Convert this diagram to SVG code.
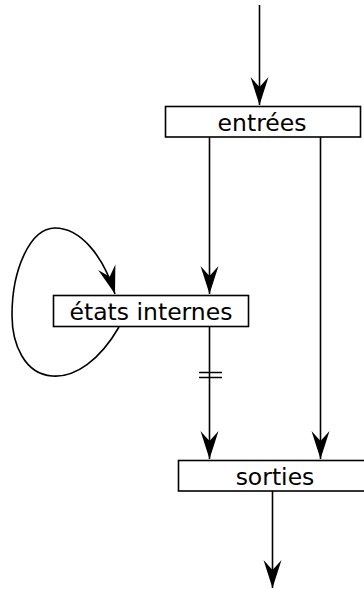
<svg xmlns="http://www.w3.org/2000/svg" width="364" height="590" viewBox="0 0 364 590">
<style>
.box{fill:#fff;stroke:#000;stroke-width:1.6}
.lbl{font-family:"DejaVu Sans",sans-serif;font-size:23.5px;fill:#000;text-anchor:middle}
.edge{fill:none;stroke:#000;stroke-width:1.6}
</style>
<defs>
<marker id="ah" markerUnits="userSpaceOnUse" viewBox="-29 -10 31 20" refX="0" refY="0" markerWidth="31" markerHeight="20" orient="auto">
<path d="M0,0 L-28,-9 L-18,0 L-28,9 Z" fill="#000"/>
</marker>
</defs>
<rect width="364" height="590" fill="#fff"/>
<g id="connectors">
<path class="edge" d="M259.5,5 V105" marker-end="url(#ah)"/>
<path class="edge" d="M209.5,137 V294" marker-end="url(#ah)"/>
<path class="edge" d="M320.5,137 V459" marker-end="url(#ah)"/>
<path class="edge" d="M209.5,327 V459" marker-end="url(#ah)"/>
<path class="edge" d="M199,372.5 H222 M199,377.5 H222"/>
<path class="edge" d="M119,327 C100,360 75,378 52,376 C25,374 12,345 12,315 C12,270 30,228 55,228 C80,228 103,255 115,294" marker-end="url(#ah)"/>
<path class="edge" d="M272.5,491 V588" marker-end="url(#ah)"/>
</g>
<g id="entrees">
<rect class="box" x="165.5" y="106.5" width="195" height="30.5"/>
<text class="lbl" x="262" y="130.5">entrées</text>
</g>
<g id="etats">
<rect class="box" x="53.5" y="295.5" width="195" height="31"/>
<text class="lbl" x="151" y="319.5">états internes</text>
</g>
<g id="sorties">
<rect class="box" x="178.5" y="460.5" width="196" height="30.5"/>
<text class="lbl" x="275" y="484.5">sorties</text>
</g>
</svg>
